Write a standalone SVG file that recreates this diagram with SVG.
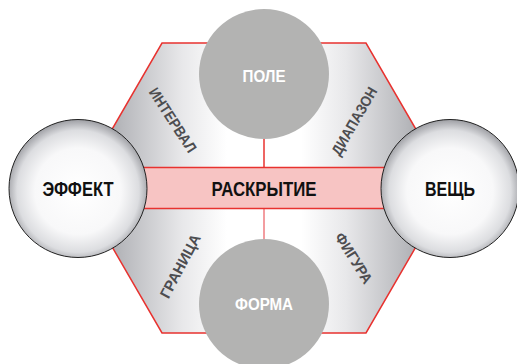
<svg xmlns="http://www.w3.org/2000/svg" width="517" height="364" viewBox="0 0 517 364">
  <defs>
    <linearGradient id="hexFill" gradientUnits="userSpaceOnUse" x1="78" y1="0" x2="450" y2="0">
      <stop offset="0" stop-color="#8c8d92"/>
      <stop offset="0.12" stop-color="#b8b9bd"/>
      <stop offset="0.28" stop-color="#e8e8ea"/>
      <stop offset="0.4" stop-color="#ffffff"/>
      <stop offset="0.6" stop-color="#ffffff"/>
      <stop offset="0.72" stop-color="#e8e8ea"/>
      <stop offset="0.88" stop-color="#b8b9bd"/>
      <stop offset="1" stop-color="#8c8d92"/>
    </linearGradient>
    <radialGradient id="ball" cx="50%" cy="52%" r="52%">
      <stop offset="0" stop-color="#ffffff"/>
      <stop offset="0.6" stop-color="#f8f8f9"/>
      <stop offset="0.85" stop-color="#dcdde0"/>
      <stop offset="1" stop-color="#9d9ea3"/>
    </radialGradient>
  </defs>
  <style>
    .hex { fill: url(#hexFill); stroke: #e8322f; stroke-width: 1.5; }
    .band { fill: #f7c4c3; stroke: #e8322f; stroke-width: 1.5; }
    .flat { fill: #b3b3b2; }
    .ball { fill: url(#ball); stroke: #222222; stroke-width: 1; }
    .wt { font-family: "Liberation Sans", Arial, sans-serif; font-weight: bold; fill: #ffffff; text-anchor: middle; }
    .bt { font-family: "Liberation Sans", Arial, sans-serif; font-weight: bold; fill: #111111; text-anchor: middle; }
    .lab { font-family: "Liberation Sans", Arial, sans-serif; font-weight: bold; fill: #4d4d50; text-anchor: middle; font-size: 15px; }
    .conn { stroke: #e8322f; stroke-width: 1.5; fill: none; }
  </style>

  <g id="hexagon">
    <polygon class="hex" points="162,43 366,43 450,188 366,333 162,333 78,188"/>
    <text class="lab" transform="translate(173,120) rotate(57)" y="5.5" textLength="74" lengthAdjust="spacingAndGlyphs">ИНТЕРВАЛ</text>
    <text class="lab" transform="translate(354,121) rotate(-60)" y="5.5" textLength="76" lengthAdjust="spacingAndGlyphs">ДИАПАЗОН</text>
    <text class="lab" transform="translate(180,266) rotate(-62)" y="5.5" textLength="70" lengthAdjust="spacingAndGlyphs">ГРАНИЦА</text>
    <text class="lab" transform="translate(354,258) rotate(58)" y="5.5" textLength="57" lengthAdjust="spacingAndGlyphs">ФИГУРА</text>
  </g>

  <g id="connectors">
    <line class="conn" x1="264" y1="136" x2="264" y2="167"/>
    <line class="conn" x1="264" y1="209" x2="264" y2="241" style="stroke:#ef7d80"/>
  </g>

  <g id="raskrytie">
    <rect class="band" x="130" y="167.5" width="270" height="41"/>
    <text class="bt" x="264" y="196" font-size="20" textLength="105" lengthAdjust="spacingAndGlyphs">РАСКРЫТИЕ</text>
  </g>

  <g id="pole">
    <circle class="flat" cx="264" cy="74" r="65"/>
    <text class="wt" x="264" y="81.5" font-size="17" textLength="43" lengthAdjust="spacingAndGlyphs">ПОЛЕ</text>
  </g>

  <g id="forma">
    <circle class="flat" cx="264" cy="304" r="65"/>
    <text class="wt" x="264" y="310" font-size="17" textLength="58" lengthAdjust="spacingAndGlyphs">ФОРМА</text>
  </g>

  <g id="effekt">
    <circle class="ball" cx="78" cy="188.5" r="69"/>
    <text class="bt" x="78" y="196" font-size="20" textLength="71" lengthAdjust="spacingAndGlyphs">ЭФФЕКТ</text>
  </g>

  <g id="veshch">
    <circle class="ball" cx="450" cy="188.5" r="69"/>
    <text class="bt" x="450" y="196" font-size="20" textLength="50" lengthAdjust="spacingAndGlyphs">ВЕЩЬ</text>
  </g>
</svg>
